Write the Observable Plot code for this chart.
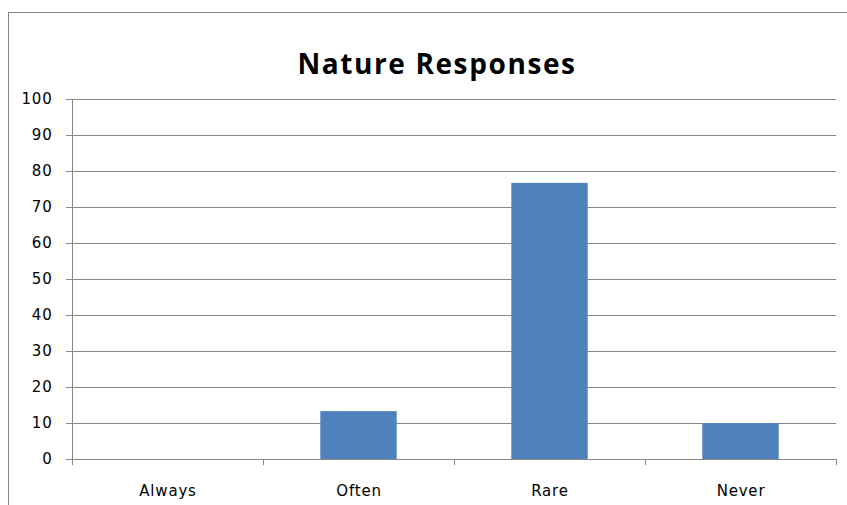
<!DOCTYPE html>
<html>
<head>
<meta charset="utf-8">
<script src="https://cdn.jsdelivr.net/npm/d3@7"></script>
<script src="https://cdn.jsdelivr.net/npm/@observablehq/plot@0.6"></script>
<style>
  html, body { margin: 0; padding: 0; background: #fff; overflow: hidden; }
  #page { position: relative; width: 847px; height: 505px; overflow: hidden; }
  #frame {
    position: absolute; left: 8px; top: 12px; width: 900px; height: 600px;
    border-left: 1px solid #888; border-top: 1px solid #888;
  }
  #title {
    position: absolute; left: 8px; width: 858px; top: 45px;
    text-align: center; font-family: "Open Sans", sans-serif; font-weight: 700;
    font-size: 28px; letter-spacing: 1.6px; line-height: 36px; color: #000;
  }
  #chart { position: absolute; left: 0; top: 80px; }
  #chart svg text { letter-spacing: 0.8px; }
</style>
</head>
<body>
<div id="page">
  <div id="frame"></div>
  <div id="title">Nature Responses</div>
  <div id="chart"></div>
</div>
<script>
// Share of responses per frequency category (percent)
const categories = ["Always", "Often", "Rare", "Never"];
const values = [0, 13.3, 76.7, 10];
const yTicks = [0, 10, 20, 30, 40, 50, 60, 70, 80, 90, 100];

const rows = categories.map((c, i) => ({category: c, index: i, value: values[i]}));
const boundaries = d3.range(categories.length + 1);
const centers = categories.map((c, i) => i + 0.5);

const grey = "#878787";

const chart = Plot.plot({
  width: 847,
  height: 425,
  marginLeft: 72,
  marginRight: 11,
  marginTop: 19,
  marginBottom: 46,
  style: {fontFamily: "DejaVu Sans, sans-serif", fontSize: "15px", color: "#000", background: "transparent"},
  x: {domain: [0, categories.length], axis: null},
  y: {domain: [0, 100], axis: null},
  marks: [
    // horizontal gridlines
    Plot.ruleY(yTicks, {stroke: grey, strokeWidth: 1}),
    // vertical value axis line
    Plot.ruleX([0], {y1: 0, y2: 100, stroke: grey}),
    Plot.axisY({
      ticks: yTicks, tickSize: 6, tickPadding: 14, stroke: grey, label: null,
      tickFormat: d => String(d), fill: "#000", fontSize: 15
    }),
    // category boundary ticks below the baseline
    Plot.axisX({ticks: boundaries, tickSize: 6, tickFormat: () => "", stroke: grey, label: null}),
    // category names centred in each band
    Plot.axisX({
      ticks: centers, tickSize: 0, tickPadding: 26, label: null,
      tickFormat: d => categories[Math.floor(d)], fill: "#000", fontSize: 15
    }),
    Plot.rectY(rows, {
      x1: d => d.index + 0.3,
      x2: d => d.index + 0.7,
      y: "value",
      fill: "#4F81BD"
    })
  ]
});

document.getElementById("chart").appendChild(chart);
</script>
</body>
</html>
